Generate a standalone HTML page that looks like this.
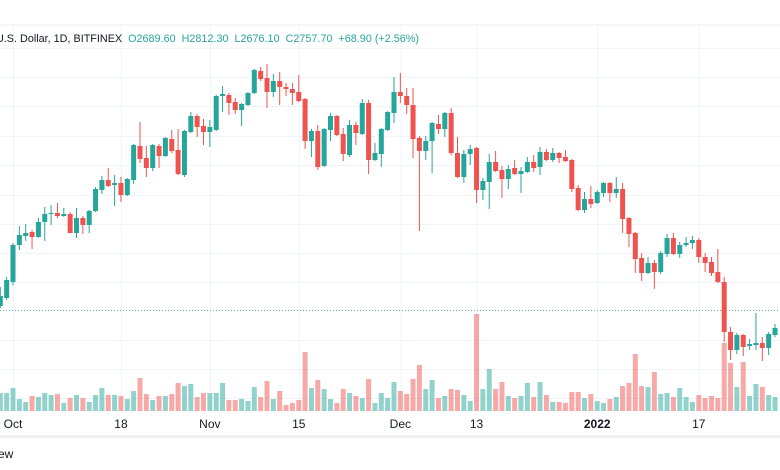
<!DOCTYPE html>
<html><head><meta charset="utf-8"><style>
html,body{margin:0;padding:0;background:#fff;width:780px;height:470px;overflow:hidden;font-family:"Liberation Sans",sans-serif}
</style></head><body>
<svg id="chart" width="780" height="470" viewBox="0 0 780 470" xmlns="http://www.w3.org/2000/svg">
<line x1="0" y1="25" x2="780" y2="25" stroke="#eceef2"/>
<g id="grid"></g>
<line x1="0" y1="310.5" x2="780" y2="310.5" stroke="#6aa9a3" stroke-dasharray="1 2"/>
<g id="vol"></g>
<g id="candles"></g>
<text x="-4" y="42" font-size="10.8" fill="#131722" textLength="423" lengthAdjust="spacingAndGlyphs">U.S. Dollar, 1D, BITFINEX <tspan fill="#26a69a" dx="3">O2689.60</tspan> <tspan fill="#26a69a" dx="3">H2812.30</tspan> <tspan fill="#26a69a" dx="3">L2676.10</tspan> <tspan fill="#26a69a" dx="3">C2757.70</tspan> <tspan fill="#26a69a" dx="3">+68.90 (+2.56%)</tspan></text>
<g id="xaxis"></g>
<rect x="0" y="435" width="780" height="3" fill="#eef0f3"/>
<text x="-2" y="458" font-size="12" fill="#131722">ew</text>
</svg>
<script>
const opens=[306,298,282,245,236,232,237,222,214,213,216,214,233,218,225,211,190,180,185,183,195,180,146,158,168,146,156,139,150,175,132,116,126,132,130,96,95,102,110,105,93,71,78,92,81,87,89,92,99,141,131,166,130,116,134,155,125,134,103,160,154,130,113,92,96,105,138,151,141,124,129,113,153,177,154,148,190,182,162,170,179,168,174,172,162,167,152,160,153,157,160,188,210,199,203,193,183,193,189,218,233,258,273,263,272,254,238,254,245,243,240,257,262,272,282,332,350,335,346,345,343,348,335].map(v=>5500-10*v);
const highs=[287,277,243,226,224,230,218,207,205,203,208,212,208,216,210,187,176,168,175,177,178,144,122,146,144,144,137,130,129,130,112,114,119,120,95,86,93,98,103,92,69,67,64,74,72,83,83,75,98,129,125,128,113,115,128,120,122,99,100,143,128,111,77,73,88,88,136,136,122,115,112,108,137,150,145,147,178,154,151,166,165,160,167,157,155,147,149,148,152,150,159,185,192,186,190,182,182,177,183,217,232,253,257,260,251,234,233,242,237,236,238,253,257,249,277,327,333,334,339,313,337,332,324].map(v=>5500-10*v);
const lows=[308,300,285,250,241,249,238,241,225,218,217,233,238,234,233,212,194,187,206,202,196,184,163,177,171,168,157,153,175,177,133,137,145,147,131,112,115,114,126,106,94,81,108,97,105,96,105,102,149,157,170,167,141,136,161,157,145,135,174,161,167,131,123,103,114,158,231,160,173,134,137,155,178,183,165,203,200,209,172,198,189,175,193,173,172,175,161,162,163,162,192,211,213,208,204,197,202,198,233,247,273,281,274,289,274,257,255,258,247,249,263,272,276,283,342,360,354,356,350,350,361,355,337].map(v=>5500-10*v);
const closes=[296,280,245,235,233,237,222,214,213,216,214,233,218,225,211,189,180,186,183,195,179,145,159,168,145,156,138,151,174,131,116,127,132,127,96,94,103,110,104,93,70,79,92,81,87,89,93,101,141,131,167,129,116,135,154,125,133,103,160,153,129,112,92,96,105,139,151,141,123,129,113,153,177,154,149,190,181,162,171,179,169,174,171,162,168,152,160,153,158,161,189,210,199,204,192,183,193,189,219,234,259,273,263,272,253,238,254,245,243,240,257,263,273,282,332,350,335,347,344,343,348,334,328].map(v=>5500-10*v);
const volumes=[18,18,23,12,9,15,14,18,16,17,8,13,16,13,9,16,23,16,16,15,12,20,33,17,11,15,15,17,28,25,27,14,18,18,18,28,11,11,12,10,24,14,30,12,20,6,8,11,59,23,31,22,12,8,22,18,15,13,32,8,18,13,29,20,17,32,46,22,31,13,15,22,21,16,10,97,22,42,22,29,15,13,15,28,14,29,16,9,9,8,19,19,13,17,10,8,12,14,25,28,57,25,24,39,17,18,14,23,14,9,16,13,15,13,68,48,24,49,15,27,24,16,14];
const xTicks=["Oct","18","Nov","15","Dec","13","2022","17"];
const xTickDays=[0,17,31,45,61,73,92,108];
const firstDay=-2;

const X=d=>13+d*6.35;
const Y=p=>(5500-p)/10;
const VY=v=>411-v;
const NS="http://www.w3.org/2000/svg";
function mk(t,a,parent){const e=document.createElementNS(NS,t);for(const k in a)e.setAttribute(k,a[k]);parent.appendChild(e);return e;}
const grid=document.getElementById('grid');
[48,77,106,136,165,195,224,253,282,340,369,398].forEach(y=>{
 const l=mk('line',{x1:0,x2:780,y1:y+0.5,y2:y+0.5,stroke:'#f0f3fa'},grid);
 
 
});
const xa=document.getElementById('xaxis');
xTickDays.forEach((d,i)=>{
 const l=mk('line',{x1:X(d)+0.5,x2:X(d)+0.5,y1:25,y2:411,stroke:'#f0f3fa'},grid);
 
 
 const t=mk('text',{x:X(d),y:428,'font-size':12,'text-anchor':'middle',fill:'#131722','font-weight':xTicks[i]==='2022'?'bold':'normal'},xa);
 t.textContent=xTicks[i];
 
 
});
const vg=document.getElementById('vol'),cg=document.getElementById('candles');
for(let i=0;i<opens.length;i++){
 const x=X(firstDay+i);const up=closes[i]>=opens[i];
 const col=up?'#26a69a':'#ef5350';
 const vb=mk('rect',{x:x-2.5,y:VY(volumes[i]),width:5,height:volumes[i],fill:up?'rgba(38,166,154,0.5)':'rgba(239,83,80,0.5)'},vg);
 
 
 const w=mk('line',{x1:x,x2:x,y1:Y(highs[i]),y2:Y(lows[i]),stroke:col,'stroke-width':1},cg);
 
 
 const top=Y(Math.max(opens[i],closes[i])),bot=Y(Math.min(opens[i],closes[i]));
 const b=mk('rect',{x:x-2.5,y:top,width:5,height:Math.max(1,bot-top),fill:col},cg);
 
 
}
</script>
</body></html>
